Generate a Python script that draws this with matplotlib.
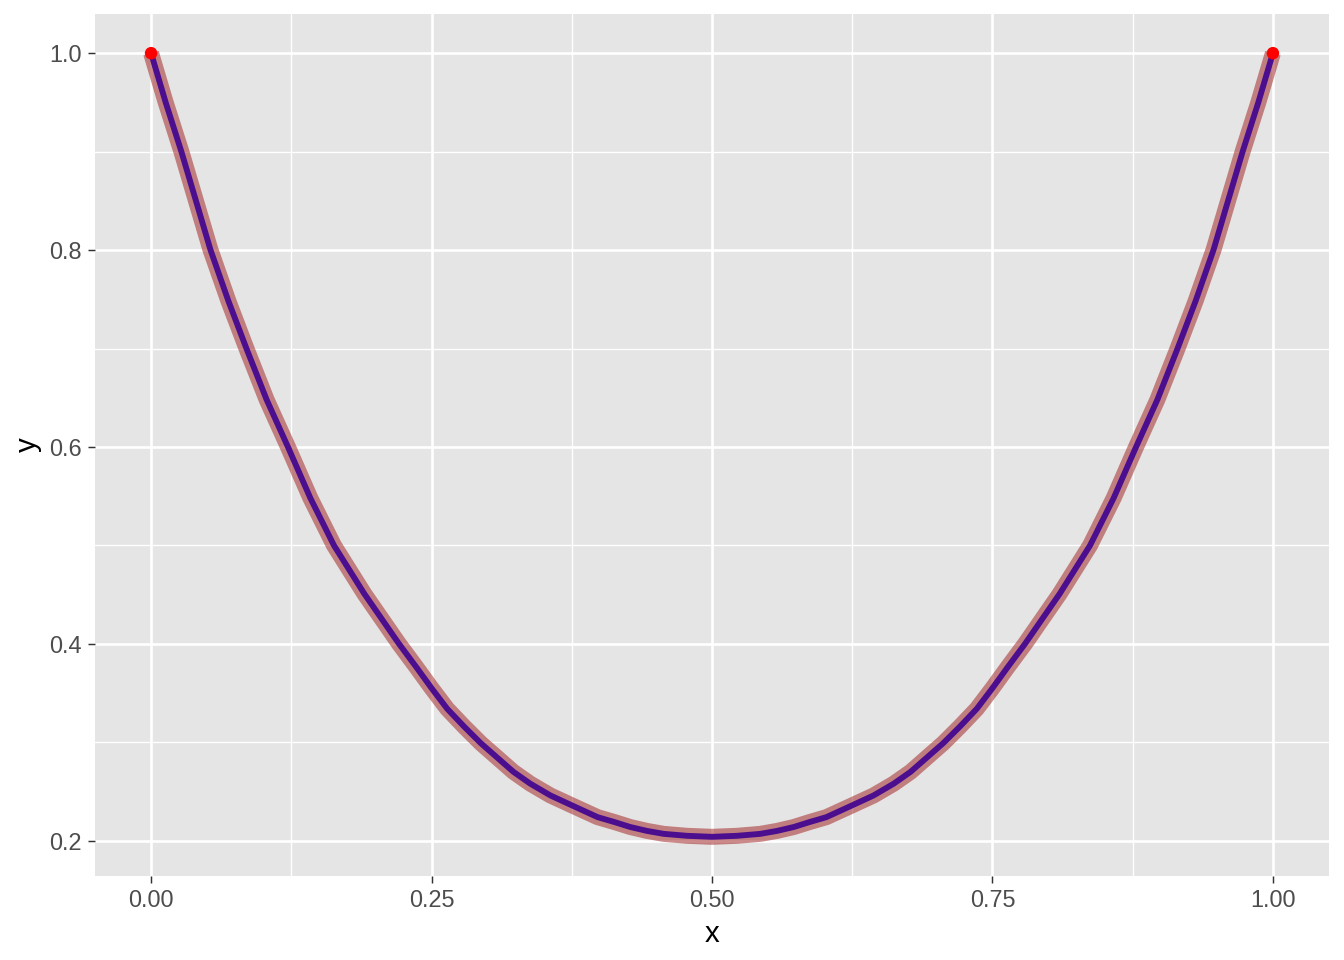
import matplotlib
matplotlib.use('Agg')
import matplotlib.pyplot as plt
import matplotlib.ticker as ticker

# curve values
x_vals = [0.0, 0.013, 0.027, 0.04, 0.053, 0.069, 0.085, 0.103, 0.122, 0.142,
          0.163, 0.19, 0.221, 0.236, 0.25, 0.264, 0.279, 0.294, 0.309, 0.323,
          0.338, 0.356, 0.375, 0.398, 0.413, 0.427, 0.442, 0.457, 0.478, 0.5,
          0.522, 0.543, 0.558, 0.573, 0.587, 0.602, 0.625, 0.644, 0.662, 0.677,
          0.691, 0.706, 0.721, 0.736, 0.75, 0.764, 0.779, 0.81, 0.837, 0.858,
          0.878, 0.897, 0.915, 0.931, 0.947, 0.96, 0.973, 0.987, 1.0]
y_vals = [1.0, 0.95, 0.9, 0.85, 0.8, 0.748, 0.7, 0.648, 0.6, 0.548,
          0.5, 0.451, 0.4, 0.377, 0.355, 0.334, 0.316, 0.299, 0.284, 0.27,
          0.258, 0.246, 0.236, 0.224, 0.219, 0.214, 0.21, 0.207, 0.205, 0.204,
          0.205, 0.207, 0.21, 0.214, 0.219, 0.224, 0.236, 0.246, 0.258, 0.27,
          0.284, 0.299, 0.316, 0.334, 0.355, 0.377, 0.4, 0.451, 0.5, 0.548,
          0.6, 0.648, 0.7, 0.748, 0.8, 0.85, 0.9, 0.95, 1.0]

# end points
end_x = [0.0, 1.0]
end_y = [1.0, 1.0]

x_ticks = [0.0, 0.25, 0.5, 0.75, 1.0]
x_labels = ['0.00', '0.25', '0.50', '0.75', '1.00']
y_ticks = [0.2, 0.4, 0.6, 0.8, 1.0]
y_labels = ['0.2', '0.4', '0.6', '0.8', '1.0']

plt.rcParams['font.family'] = ['Liberation Sans', 'DejaVu Sans']

fig = plt.figure(figsize=(7, 5), dpi=192)
ax = fig.add_axes([95 / 1344, 84 / 960, (1329 - 95) / 1344, (876 - 14) / 960])
ax.set_facecolor('#E5E5E5')

ax.plot(x_vals, y_vals, color='#A52A2A', alpha=0.55, linewidth=6.0,
        solid_capstyle='butt', solid_joinstyle='round', zorder=3)
ax.plot(x_vals, y_vals, color='#4A0E8F', linewidth=2.2,
        solid_capstyle='butt', solid_joinstyle='round', zorder=4)
ax.scatter(end_x, end_y, s=22, color='red', edgecolors='none', zorder=5)

# ggplot style 5% expansion
xr = max(x_vals) - min(x_vals)
yr = max(y_vals) - min(y_vals)
ax.set_xlim(min(x_vals) - 0.05 * xr, max(x_vals) + 0.05 * xr)
ax.set_ylim(min(y_vals) - 0.05 * yr, max(y_vals) + 0.05 * yr)

ax.set_xticks(x_ticks)
ax.set_xticklabels(x_labels)
ax.set_yticks(y_ticks)
ax.set_yticklabels(y_labels)
ax.xaxis.set_minor_locator(ticker.FixedLocator([0.125, 0.375, 0.625, 0.875]))
ax.yaxis.set_minor_locator(ticker.FixedLocator([0.3, 0.5, 0.7, 0.9]))

ax.grid(which='major', color='white', linewidth=1.0, zorder=1)
ax.grid(which='minor', color='white', linewidth=0.5, zorder=1)
ax.set_axisbelow(True)

for s in ax.spines.values():
    s.set_visible(False)

ax.tick_params(which='major', length=2.75, width=0.55, color='#333333',
               labelsize=8.8, labelcolor='#4D4D4D', pad=2.2)
ax.tick_params(which='minor', length=0)

ax.set_xlabel('x', fontsize=11, color='black', labelpad=2.75)
ax.set_ylabel('y', fontsize=11, color='black', labelpad=2.75)

fig.savefig('out.png', dpi=192, facecolor='white')
